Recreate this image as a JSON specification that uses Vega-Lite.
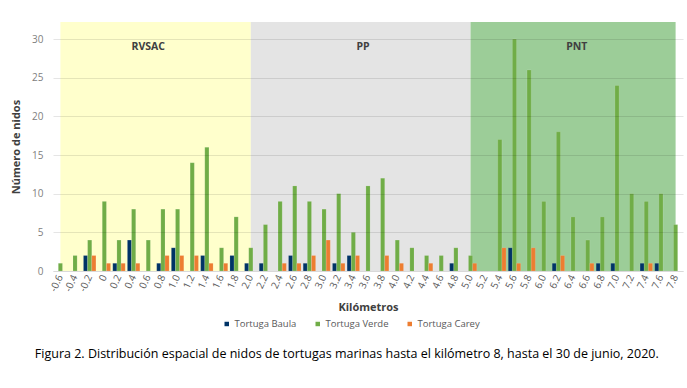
{
  "$schema": "https://vega.github.io/schema/vega-lite/v6.json",
  "width": 630,
  "height": 249,
  "padding": {"left": 10, "top": 22, "right": 3, "bottom": 5},
  "config": {"font": "Open Sans", "view": {"stroke": null}},
  "title": {
    "text": "Figura 2. Distribución espacial de nidos de tortugas marinas hasta el kilómetro 8, hasta el 30 de junio, 2020.",
    "orient": "bottom", "anchor": "middle", "frame": "bounds",
    "fontSize": 12.5, "fontWeight": "normal", "color": "#000000", "offset": 18
  },
  "datasets": {
    "nests": [
      {"km": "-0.6", "species": "Tortuga Verde", "n": 1},
      {"km": "-0.4", "species": "Tortuga Verde", "n": 2},
      {"km": "-0.2", "species": "Tortuga Baula", "n": 2},
      {"km": "-0.2", "species": "Tortuga Verde", "n": 4},
      {"km": "-0.2", "species": "Tortuga Carey", "n": 2},
      {"km": "0", "species": "Tortuga Verde", "n": 9},
      {"km": "0", "species": "Tortuga Carey", "n": 1},
      {"km": "0.2", "species": "Tortuga Baula", "n": 1},
      {"km": "0.2", "species": "Tortuga Verde", "n": 4},
      {"km": "0.2", "species": "Tortuga Carey", "n": 1},
      {"km": "0.4", "species": "Tortuga Baula", "n": 4},
      {"km": "0.4", "species": "Tortuga Verde", "n": 8},
      {"km": "0.4", "species": "Tortuga Carey", "n": 1},
      {"km": "0.6", "species": "Tortuga Verde", "n": 4},
      {"km": "0.8", "species": "Tortuga Baula", "n": 1},
      {"km": "0.8", "species": "Tortuga Verde", "n": 8},
      {"km": "0.8", "species": "Tortuga Carey", "n": 2},
      {"km": "1.0", "species": "Tortuga Baula", "n": 3},
      {"km": "1.0", "species": "Tortuga Verde", "n": 8},
      {"km": "1.0", "species": "Tortuga Carey", "n": 2},
      {"km": "1.2", "species": "Tortuga Verde", "n": 14},
      {"km": "1.2", "species": "Tortuga Carey", "n": 2},
      {"km": "1.4", "species": "Tortuga Baula", "n": 2},
      {"km": "1.4", "species": "Tortuga Verde", "n": 16},
      {"km": "1.4", "species": "Tortuga Carey", "n": 1},
      {"km": "1.6", "species": "Tortuga Verde", "n": 3},
      {"km": "1.6", "species": "Tortuga Carey", "n": 1},
      {"km": "1.8", "species": "Tortuga Baula", "n": 2},
      {"km": "1.8", "species": "Tortuga Verde", "n": 7},
      {"km": "2.0", "species": "Tortuga Baula", "n": 1},
      {"km": "2.0", "species": "Tortuga Verde", "n": 3},
      {"km": "2.2", "species": "Tortuga Baula", "n": 1},
      {"km": "2.2", "species": "Tortuga Verde", "n": 6},
      {"km": "2.4", "species": "Tortuga Verde", "n": 9},
      {"km": "2.4", "species": "Tortuga Carey", "n": 1},
      {"km": "2.6", "species": "Tortuga Baula", "n": 2},
      {"km": "2.6", "species": "Tortuga Verde", "n": 11},
      {"km": "2.6", "species": "Tortuga Carey", "n": 1},
      {"km": "2.8", "species": "Tortuga Baula", "n": 1},
      {"km": "2.8", "species": "Tortuga Verde", "n": 9},
      {"km": "2.8", "species": "Tortuga Carey", "n": 2},
      {"km": "3.0", "species": "Tortuga Verde", "n": 8},
      {"km": "3.0", "species": "Tortuga Carey", "n": 4},
      {"km": "3.2", "species": "Tortuga Baula", "n": 1},
      {"km": "3.2", "species": "Tortuga Verde", "n": 10},
      {"km": "3.2", "species": "Tortuga Carey", "n": 1},
      {"km": "3.4", "species": "Tortuga Baula", "n": 2},
      {"km": "3.4", "species": "Tortuga Verde", "n": 5},
      {"km": "3.4", "species": "Tortuga Carey", "n": 2},
      {"km": "3.6", "species": "Tortuga Verde", "n": 11},
      {"km": "3.8", "species": "Tortuga Verde", "n": 12},
      {"km": "3.8", "species": "Tortuga Carey", "n": 2},
      {"km": "4.0", "species": "Tortuga Verde", "n": 4},
      {"km": "4.0", "species": "Tortuga Carey", "n": 1},
      {"km": "4.2", "species": "Tortuga Verde", "n": 3},
      {"km": "4.4", "species": "Tortuga Verde", "n": 2},
      {"km": "4.4", "species": "Tortuga Carey", "n": 1},
      {"km": "4.6", "species": "Tortuga Verde", "n": 2},
      {"km": "4.8", "species": "Tortuga Baula", "n": 1},
      {"km": "4.8", "species": "Tortuga Verde", "n": 3},
      {"km": "5.0", "species": "Tortuga Verde", "n": 2},
      {"km": "5.0", "species": "Tortuga Carey", "n": 1},
      {"km": "5.4", "species": "Tortuga Verde", "n": 17},
      {"km": "5.4", "species": "Tortuga Carey", "n": 3},
      {"km": "5.6", "species": "Tortuga Baula", "n": 3},
      {"km": "5.6", "species": "Tortuga Verde", "n": 30},
      {"km": "5.6", "species": "Tortuga Carey", "n": 1},
      {"km": "5.8", "species": "Tortuga Verde", "n": 26},
      {"km": "5.8", "species": "Tortuga Carey", "n": 3},
      {"km": "6.0", "species": "Tortuga Verde", "n": 9},
      {"km": "6.2", "species": "Tortuga Baula", "n": 1},
      {"km": "6.2", "species": "Tortuga Verde", "n": 18},
      {"km": "6.2", "species": "Tortuga Carey", "n": 2},
      {"km": "6.4", "species": "Tortuga Verde", "n": 7},
      {"km": "6.6", "species": "Tortuga Verde", "n": 4},
      {"km": "6.6", "species": "Tortuga Carey", "n": 1},
      {"km": "6.8", "species": "Tortuga Baula", "n": 1},
      {"km": "6.8", "species": "Tortuga Verde", "n": 7},
      {"km": "7.0", "species": "Tortuga Baula", "n": 1},
      {"km": "7.0", "species": "Tortuga Verde", "n": 24},
      {"km": "7.2", "species": "Tortuga Verde", "n": 10},
      {"km": "7.4", "species": "Tortuga Baula", "n": 1},
      {"km": "7.4", "species": "Tortuga Verde", "n": 9},
      {"km": "7.4", "species": "Tortuga Carey", "n": 1},
      {"km": "7.6", "species": "Tortuga Baula", "n": 1},
      {"km": "7.6", "species": "Tortuga Verde", "n": 10},
      {"km": "7.8", "species": "Tortuga Verde", "n": 6}
    ],
    "zones": [
      {"zone": "RVSAC", "start": "-0.6", "end": "2.0"},
      {"zone": "PP", "start": "2.0", "end": "5.0"},
      {"zone": "PNT", "start": "5.0", "end": "7.8"}
    ]
  },
  "layer": [
    {
      "data": {"name": "zones"},
      "mark": {"type": "rect"},
      "encoding": {
        "x": {"field": "start", "type": "ordinal", "bandPosition": 0.5, "title": "Kilómetros",
          "scale": {"domain": ["-0.6","-0.4","-0.2","0","0.2","0.4","0.6","0.8","1.0","1.2","1.4","1.6","1.8","2.0","2.2","2.4","2.6","2.8","3.0","3.2","3.4","3.6","3.8","4.0","4.2","4.4","4.6","4.8","5.0","5.2","5.4","5.6","5.8","6.0","6.2","6.4","6.6","6.8","7.0","7.2","7.4","7.6","7.8"], "paddingInner": 0.15, "paddingOuter": 0.08}},
        "x2": {"field": "end", "bandPosition": 0.5},
        "fill": {"field": "zone", "type": "nominal", "legend": null,
          "scale": {"domain": ["RVSAC", "PP", "PNT"], "range": ["#ffffcc", "#e4e4e4", "#9ccd98"]}}
      }
    },
    {
      "data": {"name": "nests"},
      "mark": {"type": "bar", "stroke": "#ffffff", "strokeOpacity": 0.25, "strokeWidth": 0.5},
      "encoding": {
        "x": {"field": "km", "type": "ordinal", "title": "Kilómetros",
          "axis": {"labelAngle": -65, "labelFontSize": 10, "labelColor": "#595959", "ticks": false,
            "domainColor": "#d9d9d9", "titleFontSize": 11, "titleColor": "#404040", "titleFontWeight": "bold", "labelPadding": 4, "titlePadding": 9}},
        "xOffset": {"field": "species", "type": "nominal",
          "scale": {"domain": ["Tortuga Baula", "Tortuga Verde", "Tortuga Carey"]}},
        "y": {"field": "n", "type": "quantitative", "title": "Número de nidos",
          "scale": {"domain": [0, 32.2], "nice": false},
          "axis": {"values": [0, 5, 10, 15, 20, 25, 30], "grid": true, "gridColor": "#000000", "gridOpacity": 0.1, "domain": false, "ticks": false, "zindex": 1,
            "labelFontSize": 10, "labelColor": "#808080", "labelPadding": 10, "titleFontSize": 11, "titleColor": "#404040", "titleFontWeight": "bold", "titlePadding": 10}},
        "color": {"field": "species", "type": "nominal", "title": null,
          "scale": {"domain": ["Tortuga Baula", "Tortuga Verde", "Tortuga Carey"], "range": ["#003366", "#70ad47", "#ed7d31"]},
          "legend": {"orient": "none", "legendX": 169, "legendY": 297, "direction": "horizontal", "symbolType": "square", "symbolSize": 36, "labelFontSize": 9.5, "labelColor": "#595959", "columnPadding": 14, "labelOffset": 3}}
      }
    },
    {
      "data": {"values": [{"label": "RVSAC", "pos": "0.6"}]},
      "mark": {"type": "text", "fontSize": 10.5, "fontWeight": "bold", "color": "#404040"},
      "encoding": {
        "x": {"field": "pos", "type": "ordinal", "bandPosition": 0.5},
        "y": {"datum": 29},
        "text": {"field": "label"}
      }
    },
    {
      "data": {"values": [{"label": "PP", "pos": "3.6"}]},
      "mark": {"type": "text", "fontSize": 10.5, "fontWeight": "bold", "color": "#404040"},
      "encoding": {
        "x": {"field": "pos", "type": "ordinal", "bandPosition": 0.1},
        "y": {"datum": 29},
        "text": {"field": "label"}
      }
    },
    {
      "data": {"values": [{"label": "PNT", "pos": "6.4"}]},
      "mark": {"type": "text", "fontSize": 10.5, "fontWeight": "bold", "color": "#404040"},
      "encoding": {
        "x": {"field": "pos", "type": "ordinal", "bandPosition": 0.8},
        "y": {"datum": 29},
        "text": {"field": "label"}
      }
    }
  ]
}
